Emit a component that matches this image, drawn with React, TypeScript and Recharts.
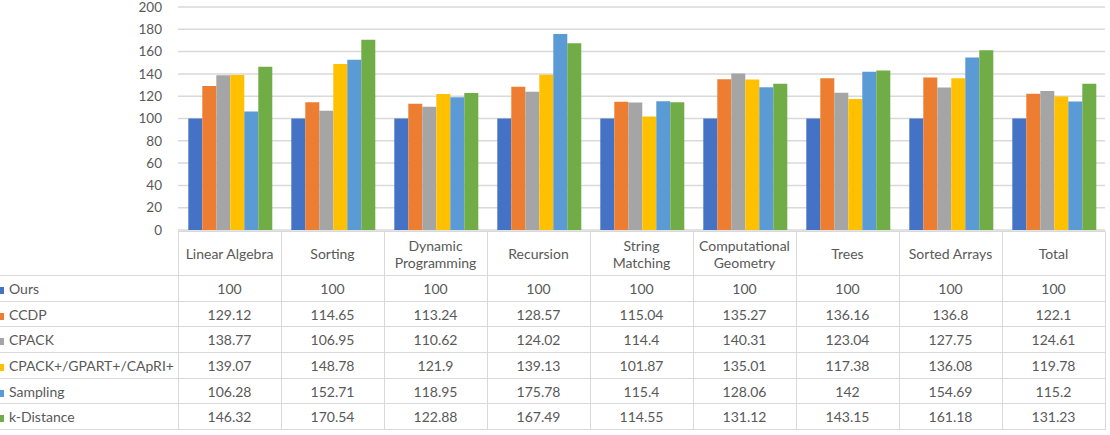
import { Bar, BarChart, CartesianGrid, XAxis, YAxis } from "recharts";

const categories = [
  "Linear Algebra",
  "Sorting",
  "Dynamic Programming",
  "Recursion",
  "String Matching",
  "Computational Geometry",
  "Trees",
  "Sorted Arrays",
  "Total",
];
const wrappedCategories = ["Dynamic Programming", "String Matching", "Computational Geometry"];

const ours = [100, 100, 100, 100, 100, 100, 100, 100, 100];
const ccdp = [129.12, 114.65, 113.24, 128.57, 115.04, 135.27, 136.16, 136.8, 122.1];
const cpack = [138.77, 106.95, 110.62, 124.02, 114.4, 140.31, 123.04, 127.75, 124.61];
const cpackPlus = [139.07, 148.78, 121.9, 139.13, 101.87, 135.01, 117.38, 136.08, 119.78];
const sampling = [106.28, 152.71, 118.95, 175.78, 115.4, 128.06, 142, 154.69, 115.2];
const kDistance = [146.32, 170.54, 122.88, 167.49, 114.55, 131.12, 143.15, 161.18, 131.23];

const yTicks = [0, 20, 40, 60, 80, 100, 120, 140, 160, 180, 200];

const series = [
  { key: "ours", name: "Ours", values: ours, color: "#4472C4" },
  { key: "ccdp", name: "CCDP", values: ccdp, color: "#ED7D31" },
  { key: "cpack", name: "CPACK", values: cpack, color: "#A5A5A5" },
  { key: "cpackPlus", name: "CPACK+/GPART+/CApRI+", values: cpackPlus, color: "#FFC000" },
  { key: "sampling", name: "Sampling", values: sampling, color: "#5B9BD5" },
  { key: "kDistance", name: "k-Distance", values: kDistance, color: "#70AD47" },
];

const data = categories.map((name, i) => {
  const row: Record<string, any> = { name };
  series.forEach((s) => (row[s.key] = s.values[i]));
  return row;
});

const FONT = "Lato, 'Liberation Sans', sans-serif";
const TEXT = "#595959";
const LINE = "#d9d9d9";

export default function App() {
  const cell: React.CSSProperties = {
    border: `1px solid ${LINE}`,
    textAlign: "center",
    padding: 0,
    color: TEXT,
  };
  return (
    <div style={{ position: "absolute", left: 0, top: 0, width: 1110, height: 435, background: "#fff", fontFamily: FONT, overflow: "hidden" }}>
      <BarChart
        width={1110}
        height={245}
        data={data}
        margin={{ top: 7, right: 5, left: 0, bottom: 15 }}
        barCategoryGap="10%"
        barGap={0}
      >
        <CartesianGrid vertical={false} stroke={LINE} strokeWidth={1.5} horizontalValues={yTicks} />
        <XAxis dataKey="name" hide />
        <YAxis
          width={178}
          domain={[0, 200]}
          ticks={yTicks}
          interval={0}
          axisLine={false}
          tickLine={false}
          tickSize={0}
          tickMargin={16}
          tick={{ fill: TEXT, fontSize: 13.5, fontFamily: FONT }}
        />
        {series.map((s) => (
          <Bar key={s.key} dataKey={s.key} name={s.name} fill={s.color} isAnimationActive={false} />
        ))}
      </BarChart>
      <table
        style={{
          position: "absolute",
          top: 231,
          left: 0,
          width: 1105,
          borderCollapse: "collapse",
          tableLayout: "fixed",
          fontSize: 14,
          fontFamily: FONT,
        }}
      >
        <colgroup>
          <col style={{ width: 178 }} />
          {categories.map((c) => (
            <col key={c} style={{ width: 103 }} />
          ))}
        </colgroup>
        <tbody>
          <tr style={{ height: 44 }}>
            <td style={{ padding: 0, borderBottom: `1px solid ${LINE}` }} />
            {categories.map((c) => (
              <td key={c} style={{ ...cell, lineHeight: "17px", background: "#fff" }}>
                {wrappedCategories.includes(c) ? (
                  <>
                    {c.split(" ")[0]}
                    <br />
                    {c.split(" ").slice(1).join(" ")}
                  </>
                ) : (
                  c
                )}
              </td>
            ))}
          </tr>
          {series.map((s) => (
            <tr key={s.key} style={{ height: 25.7, background: "#fff" }}>
              <td
                style={{
                  padding: 0,
                  borderTop: `1px solid ${LINE}`,
                  borderBottom: `1px solid ${LINE}`,
                  color: TEXT,
                  whiteSpace: "nowrap",
                }}
              >
                <span
                  style={{
                    display: "inline-block",
                    width: 7,
                    height: 7,
                    background: s.color,
                    marginLeft: -3,
                    marginRight: 5,
                  }}
                />
                {s.name}
              </td>
              {s.values.map((v, i) => (
                <td key={i} style={cell}>
                  {v}
                </td>
              ))}
            </tr>
          ))}
        </tbody>
      </table>
    </div>
  );
}
